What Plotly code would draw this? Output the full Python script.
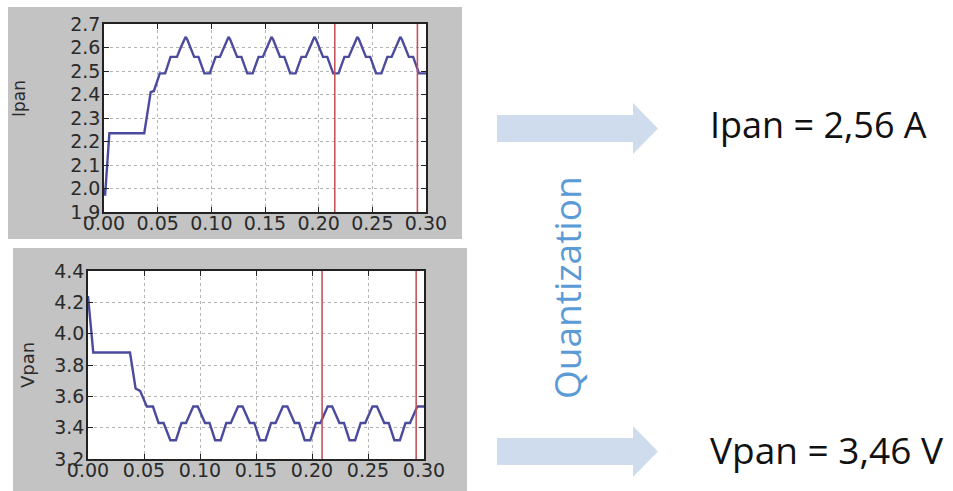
import plotly.graph_objects as go

W, H = 953, 491

# ---- data ----
t_ipan = [0.000, 0.001, 0.005, 0.0375, 0.0435, 0.0465, 0.052, 0.057, 0.062, 0.068, 0.0715, 0.0745, 0.076, 0.0775, 0.0805, 0.084, 0.088, 0.091, 0.0935,
          0.0985, 0.101, 0.104, 0.108, 0.1115, 0.1145, 0.116, 0.1175, 0.1205, 0.124, 0.128, 0.131, 0.1335,
          0.1385, 0.141, 0.144, 0.148, 0.1515, 0.1545, 0.156, 0.1575, 0.1605, 0.164, 0.168, 0.171, 0.1735,
          0.1785, 0.181, 0.184, 0.188, 0.1915, 0.1945, 0.196, 0.1975, 0.2005, 0.204, 0.208, 0.211, 0.2135,
          0.2185, 0.221, 0.224, 0.228, 0.2315, 0.2345, 0.236, 0.2375, 0.2405, 0.244, 0.248, 0.251, 0.2535,
          0.2585, 0.261, 0.264, 0.268, 0.2715, 0.2745, 0.276, 0.2775, 0.2805, 0.284, 0.288, 0.291, 0.2935, 0.300]
ipan = [2.00, 1.97, 2.235, 2.235, 2.41, 2.415, 2.49, 2.49, 2.56, 2.56, 2.60, 2.635, 2.645, 2.635, 2.60, 2.56, 2.56, 2.52, 2.49,
        2.49, 2.52, 2.56, 2.56, 2.60, 2.635, 2.645, 2.635, 2.60, 2.56, 2.56, 2.52, 2.49,
        2.49, 2.52, 2.56, 2.56, 2.60, 2.635, 2.645, 2.635, 2.60, 2.56, 2.56, 2.52, 2.49,
        2.49, 2.52, 2.56, 2.56, 2.60, 2.635, 2.645, 2.635, 2.60, 2.56, 2.56, 2.52, 2.49,
        2.49, 2.52, 2.56, 2.56, 2.60, 2.635, 2.645, 2.635, 2.60, 2.56, 2.56, 2.52, 2.49,
        2.49, 2.52, 2.56, 2.56, 2.60, 2.635, 2.645, 2.635, 2.60, 2.56, 2.56, 2.52, 2.49, 2.49]

t_vpan = [0.000, 0.0047, 0.0375, 0.0425, 0.0465, 0.0525, 0.058, 0.063, 0.0675, 0.071, 0.0735,
          0.0785, 0.081, 0.0835, 0.0875, 0.0905, 0.094, 0.098, 0.1015, 0.1045, 0.1085, 0.111, 0.1135,
          0.1185, 0.121, 0.1235, 0.1275, 0.1305, 0.134, 0.138, 0.1415, 0.1445, 0.1485, 0.151, 0.1535,
          0.1585, 0.161, 0.1635, 0.1675, 0.1705, 0.174, 0.178, 0.1815, 0.1845, 0.1885, 0.191, 0.1935,
          0.1985, 0.201, 0.2035, 0.2075, 0.2105, 0.214, 0.218, 0.2215, 0.2245, 0.2285, 0.231, 0.2335,
          0.2385, 0.241, 0.2435, 0.2475, 0.2505, 0.254, 0.258, 0.2615, 0.2645, 0.2685, 0.271, 0.2735,
          0.2785, 0.281, 0.2835, 0.2875, 0.2905, 0.294, 0.300]
vpan = [4.24, 3.88, 3.88, 3.65, 3.635, 3.535, 3.535, 3.43, 3.43, 3.37, 3.32,
        3.32, 3.37, 3.43, 3.43, 3.48, 3.535, 3.535, 3.48, 3.43, 3.43, 3.37, 3.32,
        3.32, 3.37, 3.43, 3.43, 3.48, 3.535, 3.535, 3.48, 3.43, 3.43, 3.37, 3.32,
        3.32, 3.37, 3.43, 3.43, 3.48, 3.535, 3.535, 3.48, 3.43, 3.43, 3.37, 3.32,
        3.32, 3.37, 3.43, 3.43, 3.48, 3.535, 3.535, 3.48, 3.43, 3.43, 3.37, 3.32,
        3.32, 3.37, 3.43, 3.43, 3.48, 3.535, 3.535, 3.48, 3.43, 3.43, 3.37, 3.32,
        3.32, 3.37, 3.43, 3.43, 3.48, 3.535, 3.535]

red_lines_top = [0.215, 0.292]
red_lines_bottom = [0.209, 0.293]

x_ticks = [0.00, 0.05, 0.10, 0.15, 0.20, 0.25, 0.30]
y_ticks_top = [1.9, 2.0, 2.1, 2.2, 2.3, 2.4, 2.5, 2.6, 2.7]
y_ticks_bottom = [3.2, 3.4, 3.6, 3.8, 4.0, 4.2, 4.4]

label_ipan = "Ipan = 2,56 A"
label_vpan = "Vpan = 3,46 V"
label_quant = "Quantization"

# ---- helpers ----
def px(x):
    return x / W

def py(y):
    return 1 - y / H

LINE = "#4b4b9e"
RED = "#c4545c"
GRID = "#b4b4b4"
TICKFONT = dict(family="DejaVu Sans", size=19, color="#2a2a2a")

fig = go.Figure()
fig.add_trace(go.Scatter(x=t_ipan, y=ipan, mode="lines", line=dict(color=LINE, width=2.4),
                         xaxis="x", yaxis="y", showlegend=False, hoverinfo="skip"))
fig.add_trace(go.Scatter(x=t_vpan, y=vpan, mode="lines", line=dict(color=LINE, width=2.4),
                         xaxis="x2", yaxis="y2", showlegend=False, hoverinfo="skip"))

def xaxis(domain, anchor):
    return dict(domain=domain, anchor=anchor, range=[0, 0.30], tickvals=x_ticks,
                ticktext=[f"{v:.2f}" for v in x_ticks], tickfont=TICKFONT,
                showline=True, linecolor="#222", linewidth=1.5, mirror="ticks",
                ticks="inside", ticklen=5, tickcolor="#222",
                showgrid=True, gridcolor=GRID, griddash="dot", gridwidth=1,
                zeroline=False, fixedrange=True, automargin=False, ticklabelstandoff=-7)

def yaxis(domain, anchor, rng, vals):
    return dict(domain=domain, anchor=anchor, range=rng, tickvals=vals,
                ticktext=[f"{v:.1f}" for v in vals], tickfont=TICKFONT,
                showline=True, linecolor="#222", linewidth=1.5, mirror="ticks",
                ticks="inside", ticklen=5, tickcolor="#222",
                showgrid=True, gridcolor=GRID, griddash="dot", gridwidth=1,
                zeroline=False, fixedrange=True, automargin=False, ticklabelstandoff=-2)

shapes = [
    dict(type="rect", xref="paper", yref="paper", x0=px(8), x1=px(462), y0=py(239), y1=py(7),
         fillcolor="#c3c3c3", line=dict(width=0), layer="below"),
    dict(type="rect", xref="paper", yref="paper", x0=px(13), x1=px(467), y0=py(491), y1=py(248),
         fillcolor="#c3c3c3", line=dict(width=0), layer="below"),
    dict(type="rect", xref="x domain", yref="y domain", x0=0, x1=1, y0=0, y1=1,
         fillcolor="white", line=dict(width=0), layer="below"),
    dict(type="rect", xref="x2 domain", yref="y2 domain", x0=0, x1=1, y0=0, y1=1,
         fillcolor="white", line=dict(width=0), layer="below"),
]
for v in red_lines_top:
    shapes.append(dict(type="line", xref="x", yref="y domain", x0=v, x1=v, y0=0, y1=1,
                       line=dict(color=RED, width=1.6)))
for v in red_lines_bottom:
    shapes.append(dict(type="line", xref="x2", yref="y2 domain", x0=v, x1=v, y0=0, y1=1,
                       line=dict(color=RED, width=1.6)))

def arrow(yc):
    pts = [(497, yc - 13.5), (633, yc - 13.5), (633, yc - 25.5), (658, yc), (633, yc + 25.5),
           (633, yc + 13.5), (497, yc + 13.5)]
    path = "M " + " L ".join(f"{px(a):.5f},{py(b):.5f}" for a, b in pts) + " Z"
    return dict(type="path", xref="paper", yref="paper", path=path,
                fillcolor="#cfdcee", line=dict(width=0))

shapes.append(arrow(128.5))
shapes.append(arrow(451.5))

annotations = [
    dict(text="Ipan", x=px(19), y=py(99), xref="paper", yref="paper", textangle=-90,
         xanchor="center", yanchor="middle",
         showarrow=False, font=dict(family="DejaVu Sans", size=17, color="#2a2a2a")),
    dict(text="Vpan", x=px(27), y=py(365), xref="paper", yref="paper", textangle=-90,
         xanchor="center", yanchor="middle",
         showarrow=False, font=dict(family="DejaVu Sans", size=18, color="#2a2a2a")),
    dict(text=label_ipan, x=px(708), y=py(125), xref="paper", yref="paper", xanchor="left",
         yanchor="middle", showarrow=False, font=dict(family="Open Sans", size=36, color="#111")),
    dict(text=label_vpan, x=px(708), y=py(449), xref="paper", yref="paper", xanchor="left",
         yanchor="middle", showarrow=False, font=dict(family="Open Sans", size=37, color="#111")),
    dict(text=label_quant, x=px(566), y=py(288), xref="paper", yref="paper", textangle=-90,
         xanchor="center", yanchor="middle",
         showarrow=False, font=dict(family="Open Sans", size=37, color="#5b9bd5")),
]

fig.update_layout(
    width=W, height=H, autosize=False,
    margin=dict(l=0, r=0, t=0, b=0),
    paper_bgcolor="white", plot_bgcolor="white",
    xaxis=xaxis([px(104), px(426)], "y"),
    yaxis=yaxis([py(212), py(24)], "x", [1.9, 2.7], y_ticks_top),
    xaxis2=xaxis([px(88), px(424)], "y2"),
    yaxis2=yaxis([py(459), py(271)], "x2", [3.2, 4.4], y_ticks_bottom),
    shapes=shapes, annotations=annotations,
)

fig.write_html("out.html", config={"displayModeBar": False},
               post_script="document.body.style.margin='0';")
